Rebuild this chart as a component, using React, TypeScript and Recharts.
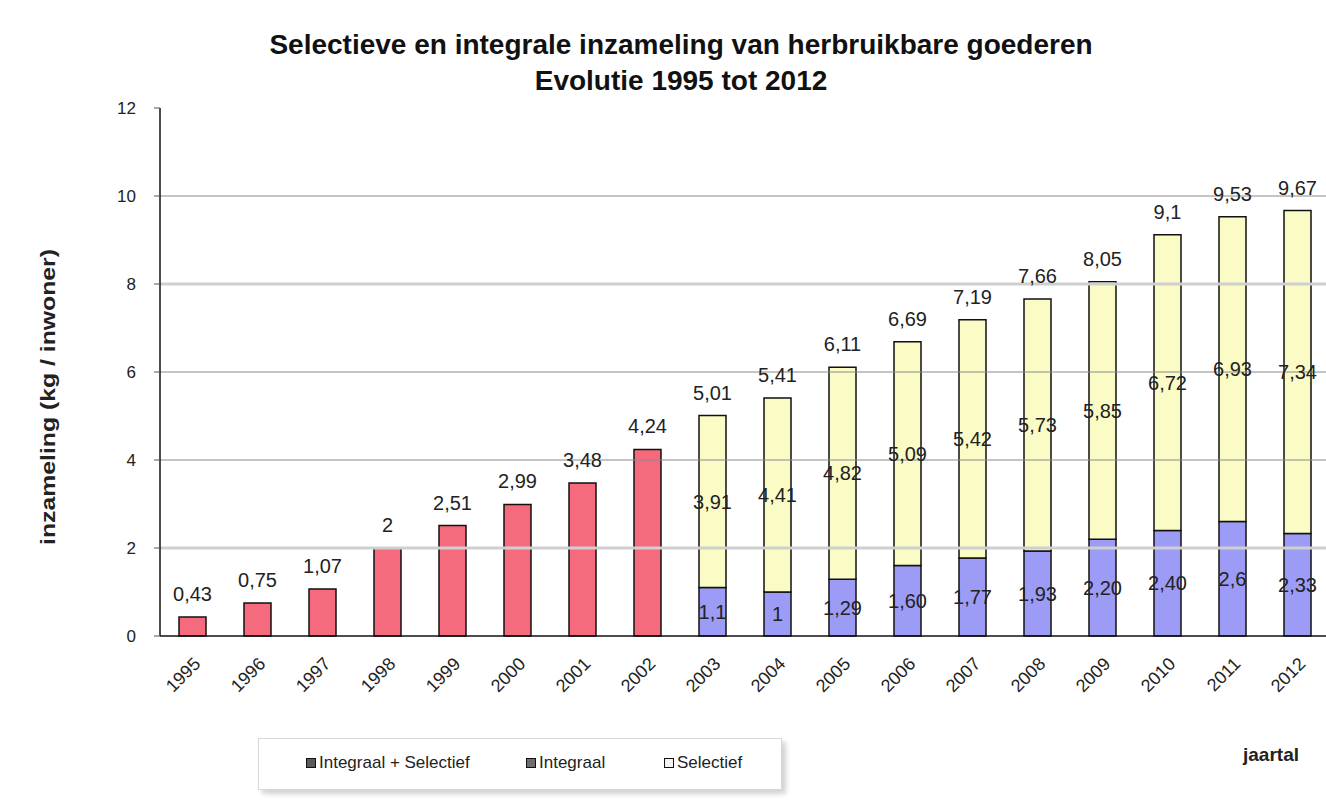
import React from "react";
import { Bar, BarChart, LabelList, ReferenceLine, XAxis, YAxis } from "recharts";

const FONT = '"Liberation Sans", Arial, sans-serif';

const jaren = [
  "1995", "1996", "1997", "1998", "1999", "2000", "2001", "2002", "2003",
  "2004", "2005", "2006", "2007", "2008", "2009", "2010", "2011", "2012",
];

// 1995-2002: one combined figure
const integraalSelectief = [0.43, 0.75, 1.07, 2, 2.51, 2.99, 3.48, 4.24];
const integraalSelectiefLabels = ["0,43", "0,75", "1,07", "2", "2,51", "2,99", "3,48", "4,24"];

// 2003-2012: split in integraal + selectief
const integraal = [1.1, 1, 1.29, 1.6, 1.77, 1.93, 2.2, 2.4, 2.6, 2.33];
const integraalLabels = ["1,1", "1", "1,29", "1,60", "1,77", "1,93", "2,20", "2,40", "2,6", "2,33"];
const selectief = [3.91, 4.41, 4.82, 5.09, 5.42, 5.73, 5.85, 6.72, 6.93, 7.34];
const selectiefLabels = ["3,91", "4,41", "4,82", "5,09", "5,42", "5,73", "5,85", "6,72", "6,93", "7,34"];
const totaalLabels = ["5,01", "5,41", "6,11", "6,69", "7,19", "7,66", "8,05", "9,1", "9,53", "9,67"];

const yTicks = [0, 2, 4, 6, 8, 10, 12];
const gridThin = [4, 6, 10];
const gridThick = [2, 8];

const splitStart = integraalSelectief.length;

const data = jaren.map((jaar, i) => {
  const j = i - splitStart;
  return {
    jaar,
    rood: i < splitStart ? integraalSelectief[i] : null,
    roodLabel: i < splitStart ? integraalSelectiefLabels[i] : undefined,
    integraal: j >= 0 ? integraal[j] : null,
    integraalLabel: j >= 0 ? integraalLabels[j] : undefined,
    selectief: j >= 0 ? selectief[j] : null,
    selectiefLabel: j >= 0 ? selectiefLabels[j] : undefined,
    totaalLabel: j >= 0 ? totaalLabels[j] : undefined,
  };
});

const legendItems = [
  { name: "Integraal + Selectief", color: "#5a5a5a", left: 306 },
  { name: "Integraal", color: "#6e6e6e", left: 526 },
  { name: "Selectief", color: "#f4f4f4", left: 664 },
];

const labelStyle = { fontSize: 20, fill: "#222", fontFamily: FONT };

export default function App() {
  return (
    <div
      style={{
        position: "absolute",
        left: 0,
        top: 0,
        width: 1326,
        height: 809,
        overflow: "hidden",
        background: "#fff",
        fontFamily: FONT,
      }}
    >
      <div
        style={{
          position: "absolute",
          left: 0,
          width: 1362,
          top: 27,
          textAlign: "center",
          fontWeight: "bold",
          fontSize: 28,
          lineHeight: "36px",
          color: "#111",
        }}
      >
        Selectieve en integrale inzameling van herbruikbare goederen
        <br />
        Evolutie 1995 tot 2012
      </div>

      <div
        style={{
          position: "absolute",
          left: 48,
          top: 397,
          transform: "translate(-50%, -50%) rotate(-90deg) scaleX(1.18)",
          whiteSpace: "nowrap",
          fontWeight: "bold",
          fontSize: 21,
          color: "#222",
        }}
      >
        inzameling (kg / inwoner)
      </div>

      <BarChart
        width={1330}
        height={809}
        data={data}
        margin={{ top: 108, right: 0, left: 0, bottom: 93 }}
        barSize={27}
        style={{ position: "absolute", left: 0, top: 0 }}
      >
        {gridThick.map((v) => (
          <ReferenceLine key={"t" + v} y={v} stroke="#cfcfcf" strokeWidth={3} />
        ))}
        {gridThin.map((v) => (
          <ReferenceLine key={"n" + v} y={v} stroke="#8a8a8a" strokeWidth={1} />
        ))}
        <XAxis
          dataKey="jaar"
          height={80}
          interval={0}
          angle={-45}
          textAnchor="end"
          tickLine={false}
          tickMargin={14}
          axisLine={{ stroke: "#111", strokeWidth: 1.5 }}
          tick={{ fontSize: 18, fill: "#222", fontFamily: FONT }}
        />
        <YAxis
          width={160}
          domain={[0, 12]}
          ticks={yTicks}
          tickSize={6}
          tickMargin={18}
          axisLine={{ stroke: "#111", strokeWidth: 1.5 }}
          tickLine={{ stroke: "#555" }}
          tick={{ fontSize: 17, fill: "#222", fontFamily: FONT }}
        />
        <Bar
          dataKey="rood"
          stackId="a"
          fill="#f56b7d"
          stroke="#111"
          strokeWidth={1.5}
          isAnimationActive={false}
        >
          <LabelList dataKey="roodLabel" position="top" offset={16} style={labelStyle} />
        </Bar>
        <Bar
          dataKey="integraal"
          stackId="a"
          fill="#9c9cf6"
          stroke="#111"
          strokeWidth={1.5}
          isAnimationActive={false}
        >
          <LabelList dataKey="integraalLabel" position="center" style={labelStyle} />
        </Bar>
        <Bar
          dataKey="selectief"
          stackId="a"
          fill="#fbfbc6"
          stroke="#111"
          strokeWidth={1.5}
          isAnimationActive={false}
        >
          <LabelList dataKey="selectiefLabel" position="center" style={labelStyle} />
          <LabelList dataKey="totaalLabel" position="top" offset={16} style={labelStyle} />
        </Bar>
      </BarChart>

      <div
        style={{
          position: "absolute",
          left: 258,
          top: 738,
          width: 522,
          height: 50,
          border: "1px solid #d8d8d8",
          boxShadow: "4px 4px 5px rgba(0,0,0,0.18)",
          background: "#fff",
        }}
      />
      {legendItems.map((it) => (
        <div
          key={it.name}
          style={{
            position: "absolute",
            left: it.left,
            top: 753,
            display: "flex",
            alignItems: "center",
            fontSize: 17,
            color: "#222",
            whiteSpace: "nowrap",
          }}
        >
          <span
            style={{
              display: "inline-block",
              width: 8,
              height: 8,
              border: "1.5px solid #111",
              background: it.color,
              marginRight: 3,
            }}
          />
          {it.name}
        </div>
      ))}

      <div
        style={{
          position: "absolute",
          left: 1243,
          top: 744,
          fontWeight: "bold",
          fontSize: 19,
          color: "#222",
        }}
      >
        jaartal
      </div>
    </div>
  );
}
